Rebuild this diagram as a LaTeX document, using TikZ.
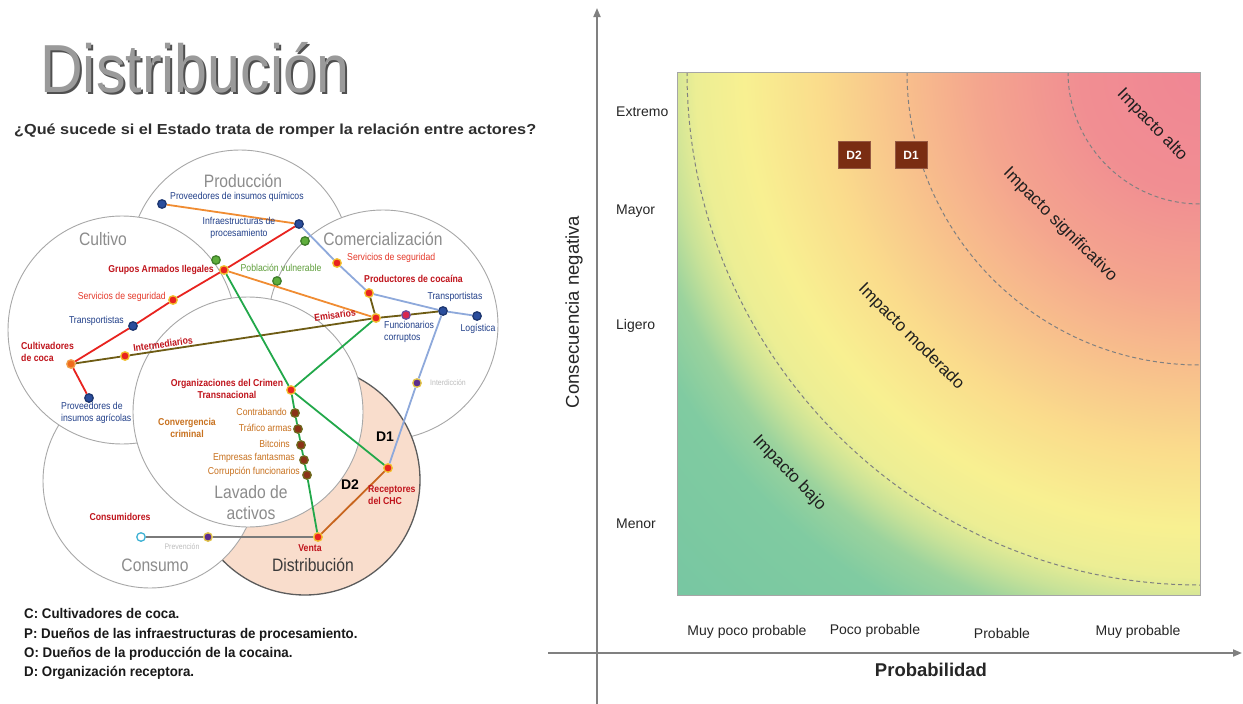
\documentclass[tikz,border=0pt]{standalone}
\usepackage{fontspec}
\setmainfont{Liberation Sans}
\newfontfamily\narrowsf[FakeStretch=0.87]{Liberation Sans}
\newfontfamily\keysf[FakeStretch=0.95]{Liberation Sans}
\usetikzlibrary{arrows.meta}

% palette
\definecolor{ringgray}{HTML}{A8A8A8}
\definecolor{zonegray}{HTML}{8C8C8C}
\definecolor{zonedark}{HTML}{3A3A3A}
\definecolor{peach}{HTML}{F9DDCC}
\definecolor{peachedge}{HTML}{5C5C5C}
\definecolor{tagnavy}{HTML}{22408A}
\definecolor{tagred}{HTML}{C0141C}
\definecolor{tagsoftred}{HTML}{E5392A}
\definecolor{taggreen}{HTML}{5E9E3A}
\definecolor{tagrust}{HTML}{C8711E}
\definecolor{tagghost}{HTML}{BDBDBD}
\definecolor{wirered}{HTML}{E8231F}
\definecolor{wireorange}{HTML}{F08C32}
\definecolor{wireblue}{HTML}{8EA9DB}
\definecolor{wireolive}{HTML}{6E5C14}
\definecolor{wiregreen}{HTML}{22A84A}
\definecolor{wirerust}{HTML}{C8651E}
\definecolor{wiregray}{HTML}{7A7A7A}
\definecolor{titlegray}{HTML}{9A9A9A}
\definecolor{titleshade}{HTML}{505050}
\definecolor{axisgray}{HTML}{808080}
\definecolor{boxbrown}{HTML}{7A2D12}
\definecolor{inkdark}{HTML}{262626}

% risk field: pink at the upper right corner, fading through yellow to green
\pgfdeclareradialshading{riskfield}{\pgfpoint{0bp}{0bp}}{%
 rgb(0bp)=(0.941,0.525,0.580);
 rgb(3.95bp)=(0.945,0.557,0.573);
 rgb(7.24bp)=(0.957,0.647,0.557);
 rgb(9.87bp)=(0.973,0.753,0.549);
 rgb(12.5bp)=(0.980,0.863,0.549);
 rgb(14.97bp)=(0.973,0.941,0.569);
 rgb(16.61bp)=(0.925,0.933,0.580);
 rgb(17.6bp)=(0.784,0.886,0.596);
 rgb(18.59bp)=(0.608,0.827,0.616);
 rgb(20.07bp)=(0.502,0.796,0.631);
 rgb(25bp)=(0.463,0.776,0.635);
 rgb(50bp)=(0.463,0.776,0.635)}

\begin{document}
\begin{tikzpicture}[x=1pt,y=-1pt,
  every node/.style={inner sep=0pt},
  ring/.style={draw=ringgray, line width=0.9pt, fill=white},
  zone/.style={font=\narrowsf\fontsize{18}{21}\selectfont, text=zonegray, align=center},
  lbl/.style={font=\narrowsf\fontsize{10}{12.5}\selectfont, align=center},
  boldlbl/.style={font=\narrowsf\bfseries\fontsize{10}{12.5}\selectfont, align=center},
  navylbl/.style={lbl, text=tagnavy},
  redlbl/.style={boldlbl, text=tagred},
  softredlbl/.style={lbl, text=tagsoftred},
  greenlbl/.style={lbl, text=taggreen},
  rustlbl/.style={lbl, text=tagrust},
  ghostlbl/.style={lbl, text=tagghost, font=\narrowsf\fontsize{8}{10}\selectfont},
  actor/.style={circle, minimum size=8.5pt, line width=1.3pt},
  bluedot/.style={actor, fill={rgb,255:red,42;green,77;blue,156}, draw={rgb,255:red,29;green,54;blue,112}},
  greendot/.style={actor, fill={rgb,255:red,95;green,174;blue,60}, draw={rgb,255:red,63;green,127;blue,42}},
  hotdot/.style={actor, fill={rgb,255:red,232;green,35;blue,31}, draw={rgb,255:red,242;green,193;blue,46}},
  growdot/.style={actor, fill={rgb,255:red,239;green,106;blue,29}, draw={rgb,255:red,240;green,160;blue,74}},
  launderdot/.style={actor, fill={rgb,255:red,138;green,50;blue,23}, draw={rgb,255:red,111;green,106;blue,30}},
  bribedot/.style={actor, fill={rgb,255:red,217;green,38;blue,78}, draw={rgb,255:red,107;green,77;blue,156}},
  violetdot/.style={actor, fill={rgb,255:red,91;green,45;blue,142}, draw={rgb,255:red,227;green,198;blue,74}},
  hollowdot/.style={actor, fill=white, draw={rgb,255:red,63;green,178;blue,212}},
  wire/.style={line width=1.8pt},
  keytext/.style={anchor=base west, font=\keysf\bfseries\fontsize{14}{14}\selectfont, text=black!90},
  ticklbl/.style={font=\fontsize{14}{14}\selectfont, text=inkdark},
  bandlbl/.style={font=\fontsize{17}{17}\selectfont, text=black!88},
  dbox/.style={fill=boxbrown, draw=boxbrown!80!white, line width=0.6pt, minimum width=32pt, minimum height=27pt,
    text=white, font=\bfseries\fontsize{12}{12}\selectfont},
  axisline/.style={draw=axisgray, line width=1.8pt, -{Triangle[length=9pt,width=7pt]}}
]
\useasboundingbox (0,0) rectangle (1243,704);
\fill[white] (0,0) rectangle (1243,704);

% ---------------- title block ----------------
\node[anchor=base west, text=titleshade, font=\narrowsf\fontsize{68}{68}\selectfont] (titleshadow) at (42,94) {Distribución};
\node[anchor=base west, text=titlegray, font=\narrowsf\fontsize{68}{68}\selectfont] (title) at (40,92) {Distribución};
\node[anchor=base west, text=black!82, font=\bfseries\fontsize{14.5}{15}\selectfont] (question) at (14,134)
  {\resizebox{522pt}{\height}{¿Qué sucede si el Estado trata de romper la relación entre actores?}};

% ---------------- stage circles ----------------
\draw[ring] (240,260) circle (110pt);
\draw[ring] (383,325) circle (115pt);
\draw[draw=peachedge, line width=1.3pt, fill=peach] (305,480) circle (115pt);
\draw[ring] (150,481) circle (107pt);
\draw[ring] (122,330) circle (114pt);
\draw[ring] (248,412) circle (115pt);

\node[zone] (zprod) at (243,181) {Producción};
\node[zone] (zcult) at (103,239) {Cultivo};
\node[zone] (zcom) at (383,239) {Comercialización};
\node[zone] (zlav) at (251,503) {Lavado de\\activos};
\node[zone] (zcons) at (155,565) {Consumo};
\node[zone, text=zonedark] (zdist) at (313,565) {Distribución};

% ---------------- actors ----------------
\node[bluedot] (quim) at (162,204) {};
\node[bluedot] (infra) at (299,224) {};
\node[greendot] (pv1) at (216,260) {};
\node[greendot] (pv2) at (305,241) {};
\node[greendot] (pv3) at (277,281) {};
\node[hotdot] (armed) at (224,270) {};
\node[hotdot] (secc) at (173,300) {};
\node[bluedot] (transc) at (133,326) {};
\node[growdot] (grower) at (71,364) {};
\node[hotdot] (middle) at (125,356) {};
\node[bluedot] (agro) at (89,398) {};
\node[hotdot] (secm) at (337,263) {};
\node[hotdot] (coke) at (369,293) {};
\node[bluedot] (transm) at (443,311) {};
\node[bluedot] (logis) at (477,316) {};
\node[hotdot] (envoy) at (376,318) {};
\node[bribedot] (bribe) at (406,315) {};
\node[violetdot] (seize) at (417,383) {};
\node[hotdot] (crime) at (291,390) {};
\node[launderdot] (smug) at (295,413) {};
\node[launderdot] (arms) at (298,429) {};
\node[launderdot] (coin) at (301,445) {};
\node[launderdot] (shell) at (304,460) {};
\node[launderdot] (graft) at (307,475) {};
\node[hotdot] (recv) at (388,468) {};
\node[hotdot] (sale) at (318,537) {};
\node[hollowdot] (users) at (141,537) {};
\node[violetdot] (prev) at (208,537) {};

% ---------------- relations ----------------
\draw[wire, wireorange] (quim) -- (infra);
\draw[wire, wirered] (infra) -- (armed) -- (secc) -- (transc) -- (grower) -- (agro);
\draw[wire, wireblue] (infra) -- (secm) -- (coke) -- (transm) -- (logis);
\draw[wire, wireblue] (transm) -- (seize) -- (recv);
\draw[wire, wireolive] (grower) -- (middle) -- (envoy) -- (bribe) -- (transm);
\draw[wire, wireolive] (coke) -- (envoy);
\draw[wire, wireorange] (armed) -- (envoy);
\draw[wire, wiregreen] (armed) -- (crime);
\draw[wire, wiregreen] (envoy) -- (crime);
\draw[wire, wiregreen] (crime) -- (recv);
\draw[wire, wiregreen] (crime) -- (smug) -- (arms) -- (coin) -- (shell) -- (graft) -- (sale);
\draw[wire, wirerust] (recv) -- (sale);
\draw[wire, wiregray] (users) -- (prev) -- (sale);

% ---------------- actor labels ----------------
\node[navylbl, anchor=west] (lquim) at (170,197) {Proveedores de insumos químicos};
\node[navylbl] (linfra) at (239,228) {Infraestructuras de\\procesamiento};
\node[redlbl, anchor=east] (larmed) at (214,270) {Grupos Armados Ilegales};
\node[greenlbl] (lpv) at (281,268) {Población vulnerable};
\node[softredlbl, anchor=east] (lsecc) at (166,297) {Servicios de seguridad};
\node[navylbl, anchor=east] (ltransc) at (124,321) {Transportistas};
\node[redlbl, anchor=north west, align=left] (lgrower) at (21,342) {Cultivadores\\de coca};
\node[redlbl, rotate=8] (lmiddle) at (163,344) {Intermediarios};
\node[navylbl, anchor=north west, align=left] (lagro) at (61,402) {Proveedores de\\insumos agrícolas};
\node[softredlbl, anchor=west] (lsecm) at (347,258) {Servicios de seguridad};
\node[redlbl, anchor=west] (lcoke) at (364,279) {Productores de cocaína};
\node[navylbl] (ltransm) at (455,297) {Transportistas};
\node[navylbl] (llogis) at (478,329) {Logística};
\node[redlbl, rotate=8] (lenvoy) at (335,315) {Emisarios};
\node[navylbl, anchor=north west, align=left] (lbribe) at (384,321) {Funcionarios\\corruptos};
\node[ghostlbl, anchor=west] (lseize) at (430,383) {Interdicción};
\node[redlbl] (lcrime) at (227,389) {Organizaciones del Crimen\\Transnacional};
\node[rustlbl, font=\narrowsf\bfseries\fontsize{10}{12.5}\selectfont] (lconv) at (187,428) {Convergencia\\criminal};
\node[rustlbl, anchor=east] (lsmug) at (287,412) {Contrabando};
\node[rustlbl, anchor=east] (larms) at (292,428) {Tráfico armas};
\node[rustlbl, anchor=east] (lcoin) at (290,444) {Bitcoins};
\node[rustlbl, anchor=east] (lshell) at (295,458) {Empresas fantasmas};
\node[rustlbl, anchor=east] (lgraft) at (300,472) {Corrupción funcionarios};
\node[redlbl, anchor=north west, align=left] (lrecv) at (368,485) {Receptores\\del CHC};
\node[redlbl] (lsale) at (310,548) {Venta};
\node[redlbl] (lusers) at (120,517) {Consumidores};
\node[ghostlbl] (lprev) at (182,547) {Prevención};
\node[font=\bfseries\fontsize{14}{14}\selectfont] (done) at (385,437) {D1};
\node[font=\bfseries\fontsize{14}{14}\selectfont] (dtwo) at (350,485) {D2};

% ---------------- key ----------------
\node[keytext] (key1) at (24,618) {C: Cultivadores de coca.};
\node[keytext] (key2) at (24,638) {P: Dueños de las infraestructuras de procesamiento.};
\node[keytext] (key3) at (24,657) {O: Dueños de la producción de la cocaina.};
\node[keytext] (key4) at (24,676) {D: Organización receptora.};

% ---------------- risk matrix ----------------
\begin{scope}
  \clip (677,72) rectangle (1200,595);
  \shade[shading=riskfield] (1200,72) circle (760pt);
  \draw[axisgray, line width=1pt, dash pattern=on 4pt off 3pt] (1068,72) arc[start angle=180, end angle=270, radius=132pt];
  \draw[axisgray, line width=1pt, dash pattern=on 4pt off 3pt] (907,72) arc[start angle=180, end angle=270, radius=293pt];
  \draw[axisgray, line width=1pt, dash pattern=on 4pt off 3pt] (687,72) arc[start angle=180, end angle=270, radius=513pt];
\end{scope}
\draw[black!35, line width=0.8pt] (677,72) rectangle (1200,595);

\coordinate (ybase) at (597,704);
\coordinate (ytip) at (597,8);
\coordinate (xbase) at (548,653);
\coordinate (xtip) at (1242,653);
\draw[axisline] (ybase) -- (ytip);
\draw[axisline] (xbase) -- (xtip);

\node[ticklbl, anchor=west] (ext) at (616,112) {Extremo};
\node[ticklbl, anchor=west] (may) at (616,211) {Mayor};
\node[ticklbl, anchor=west] (lig) at (616,326) {Ligero};
\node[ticklbl, anchor=west] (men) at (616,524) {Menor};
\node[ticklbl] (p1) at (747,632) {Muy poco probable};
\node[ticklbl] (p2) at (875,631) {Poco probable};
\node[ticklbl] (p3) at (1002,633) {Probable};
\node[ticklbl] (p4) at (1138,632) {Muy probable};
\node[font=\bfseries\fontsize{18.5}{18.5}\selectfont, text=inkdark] (xtitle) at (931,670) {Probabilidad};
\node[font=\fontsize{18.5}{18.5}\selectfont, text=inkdark, rotate=90] (ytitle) at (574,312) {Consecuencia negativa};

\node[bandlbl, rotate=-46] (balto) at (1152,125) {Impacto alto};
\node[bandlbl, rotate=-45] (bsig) at (1060,225) {Impacto significativo};
\node[bandlbl, rotate=-45] (bmod) at (911,337) {Impacto moderado};
\node[bandlbl, rotate=-46] (bbajo) at (789,473) {Impacto bajo};

\node[dbox] (d2) at (854,155) {D2};
\node[dbox] (d1) at (911,155) {D1};
\end{tikzpicture}
\end{document}
